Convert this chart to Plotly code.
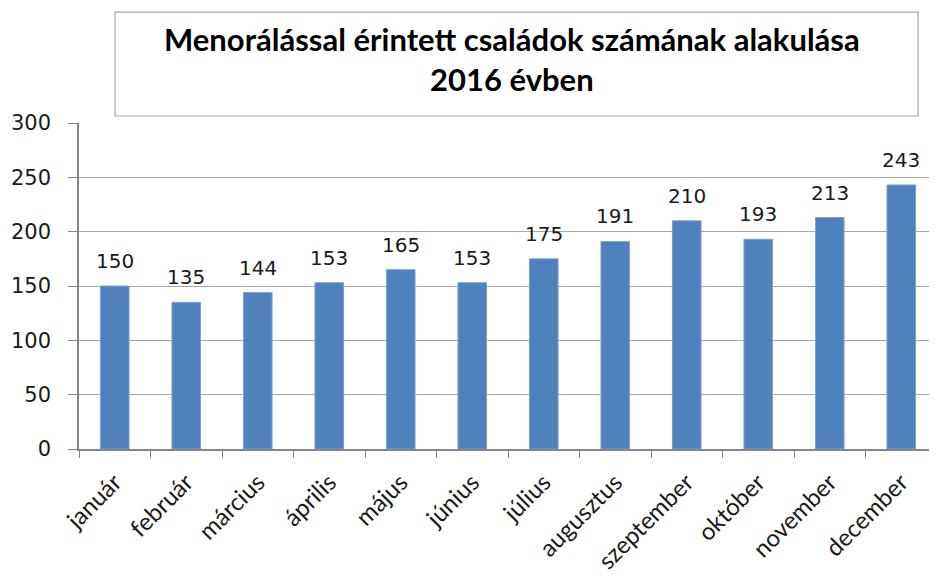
import plotly.graph_objects as go

months = ["január", "február", "március", "április", "május", "június",
          "július", "augusztus", "szeptember", "október", "november", "december"]
values = [150, 135, 144, 153, 165, 153, 175, 191, 210, 193, 213, 243]
title_lines = ["Menorálással érintett családok számának alakulása", "2016 évben"]

fig = go.Figure()
fig.add_trace(go.Bar(
    x=months, y=values,
    marker=dict(color="#4f81bd", line=dict(color="#7fa1cf", width=1)),
    hoverinfo="x+y",
))

value_labels = [dict(x=m, y=v, xref="x", yref="y", text=str(v), showarrow=False,
                     xanchor="center", yanchor="bottom", yshift=11,
                     font=dict(family="DejaVu Sans", size=20, color="#1a1a1a"))
                for m, v in zip(months, values)]

fig.update_layout(
    width=929, height=568,
    margin=dict(l=71, r=0, t=115, b=127, autoexpand=False),
    paper_bgcolor="white", plot_bgcolor="white",
    bargap=0.6, showlegend=False,
    xaxis=dict(
        type="category", tickson="boundaries", ticks="outside", ticklen=7,
        tickcolor="#868686", showline=True, linecolor="#868686", linewidth=1.5,
        tickangle=-45, tickfont=dict(family="Lato", size=24, color="#1a1a1a"),
        ticklabelstandoff=8, showgrid=False, automargin=False,
    ),
    yaxis=dict(
        range=[0, 300], dtick=50, ticks="outside", ticklen=9, tickcolor="#868686",
        showline=True, linecolor="#868686", linewidth=1.5,
        showgrid=True, gridcolor="#a6a6a6", gridwidth=1.2,
        tickfont=dict(family="DejaVu Sans", size=21, color="#1a1a1a"),
        ticklabelstandoff=13, zeroline=False, automargin=False,
    ),
    shapes=[dict(type="rect", xref="paper", yref="paper",
                 x0=0.042, x1=0.978, y0=1.0215, y1=1.340,
                 line=dict(color="#a6a6a6", width=1.2), fillcolor="white")],
    annotations=value_labels + [dict(xref="paper", yref="paper", x=0.505, y=1.196,
                      xanchor="center", yanchor="middle",
                      text="<b>" + title_lines[0] + "</b><br><b>" + title_lines[1] + "</b>",
                      showarrow=False, align="center",
                      font=dict(family="Lato", size=31, color="black"))],
)

fig.write_html("out.html")
